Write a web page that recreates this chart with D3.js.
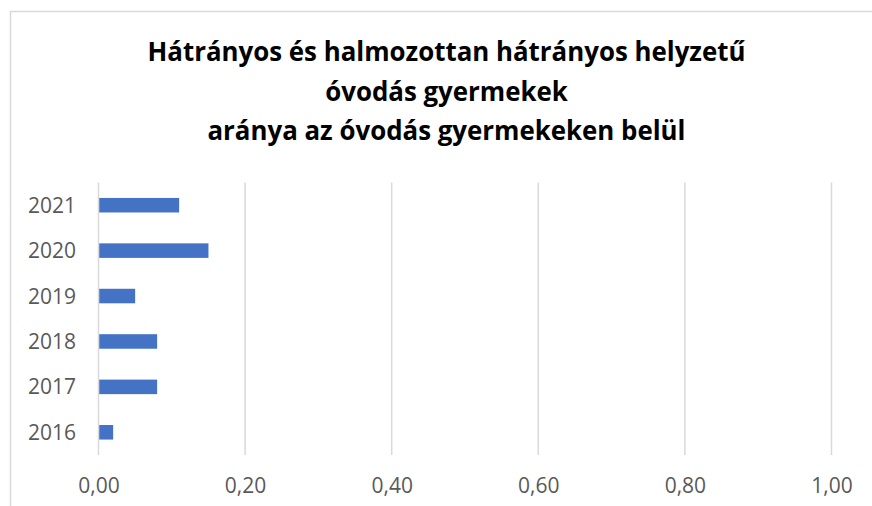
<!DOCTYPE html>
<html>
<head>
<meta charset="utf-8">
<script src="https://cdn.jsdelivr.net/npm/d3@7"></script>
<style>
  html, body { margin: 0; padding: 0; background: #fff; }
  svg { display: block; }
</style>
</head>
<body>
<svg id="chart" width="872" height="506"></svg>
<script>
const titleLines = ["Hátrányos és halmozottan hátrányos helyzetű", "óvodás gyermekek", "aránya az óvodás gyermekeken belül"];
const categories = ["2021", "2020", "2019", "2018", "2017", "2016"];
const values = [0.11, 0.15, 0.05, 0.08, 0.08, 0.02];
const xTicks = [0, 0.2, 0.4, 0.6, 0.8, 1.0];

const svg = d3.select("#chart");
const W = 872, H = 506;

// chart frame
svg.append("rect")
  .attr("x", 10.5).attr("y", 11.5)
  .attr("width", W + 20).attr("height", H + 20)
  .attr("fill", "#fff").attr("stroke", "#d9d9d9").attr("stroke-width", 1.5);

// title
const title = svg.append("text")
  .attr("text-anchor", "middle")
  .attr("font-family", "'Open Sans', sans-serif")
  .attr("font-weight", "bold")
  .attr("fill", "#000");
const baselines = [61, 100.5, 140];
titleLines.forEach((t, i) => {
  title.append("tspan").attr("x", 446.5).attr("y", baselines[i]).text(t);
});
// fit title width to the reference
title.attr("font-size", 24);
const first = title.select("tspan").node();
const w0 = first.getComputedTextLength();
title.attr("font-size", 24 * 598 / w0);

const x = d3.scaleLinear().domain([0, 1]).range([98.5, 831.5]);
const y = d3.scaleBand().domain(categories).range([182.5, 455]).paddingInner(0.68).paddingOuter(0.34);

// gridlines
svg.append("g")
  .selectAll("line")
  .data(xTicks)
  .join("line")
  .attr("x1", d => x(d)).attr("x2", d => x(d))
  .attr("y1", 182.5).attr("y2", 455)
  .attr("stroke", "#d9d9d9").attr("stroke-width", 1.5);

// bars
svg.append("g")
  .selectAll("rect")
  .data(categories.map((c, i) => ({ c, v: values[i] })))
  .join("rect")
  .attr("x", x(0) + 0.75)
  .attr("y", d => y(d.c))
  .attr("width", d => x(d.v) - x(0) - 0.75)
  .attr("height", y.bandwidth())
  .attr("fill", "#4472c4");

// x axis labels
const fmt = d => d3.format(".2f")(d).replace(".", ",");
const xAxis = d3.axisBottom(x).tickValues(xTicks).tickFormat(fmt).tickSize(0).tickPadding(0);
const gx = svg.append("g").attr("transform", "translate(0,477)").call(xAxis);
gx.select(".domain").remove();
gx.selectAll("text")
  .attr("font-family", "'Open Sans', sans-serif")
  .attr("font-size", 21)
  .attr("fill", "#595959")
  .attr("dy", null)
  .attr("y", 16);

// y axis labels
const yAxis = d3.axisLeft(y).tickSize(0).tickPadding(0);
const gy = svg.append("g").attr("transform", "translate(76,0)").call(yAxis);
gy.select(".domain").remove();
gy.selectAll("text")
  .attr("font-family", "'Open Sans', sans-serif")
  .attr("font-size", 21)
  .attr("fill", "#595959")
  .attr("dy", "0.36em");
</script>
</body>
</html>
